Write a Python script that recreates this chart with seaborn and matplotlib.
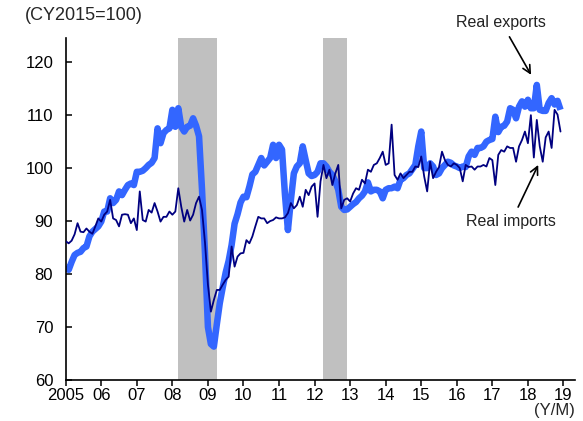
import numpy as np
import pandas as pd
import seaborn as sns
import matplotlib.pyplot as plt

# monthly indices (CY2015=100), Jan 2005 - Dec 2018
exports_by_year = {
    2005: [81.4, 80.8, 82.3, 83.6, 84.0, 84.2, 84.9, 85.2, 87.1, 88.0, 88.5, 89.0],
    2006: [89.9, 91.8, 91.8, 94.3, 93.4, 94.0, 95.6, 94.9, 95.9, 96.8, 97.1, 96.8],
    2007: [99.3, 99.3, 99.5, 100.0, 100.6, 101.0, 101.9, 107.5, 104.7, 106.6, 107.2, 107.5],
    2008: [111.0, 107.8, 111.3, 107.8, 106.9, 107.8, 108.0, 109.4, 108.0, 106.0, 96.0, 84.0],
    2009: [70.0, 66.8, 66.3, 70.5, 74.5, 77.5, 80.3, 82.5, 85.5, 89.5, 91.3, 93.5],
    2010: [94.6, 94.5, 96.5, 98.8, 99.3, 100.6, 101.9, 100.5, 101.2, 101.9, 104.4, 101.9],
    2011: [104.4, 103.5, 95.0, 88.3, 94.0, 99.0, 100.3, 100.9, 104.1, 101.5, 99.0, 98.5],
    2012: [98.7, 99.3, 100.9, 100.9, 100.3, 99.3, 98.7, 97.5, 95.9, 92.7, 92.1, 92.2],
    2013: [92.7, 93.2, 93.6, 94.3, 94.8, 95.6, 97.3, 95.6, 95.9, 95.9, 95.6, 94.3],
    2014: [95.9, 96.2, 96.2, 96.5, 96.2, 97.8, 98.1, 98.7, 99.0, 99.8, 100.6, 104.1],
    2015: [106.9, 100.0, 100.0, 100.9, 100.3, 98.7, 99.0, 100.0, 100.6, 101.2, 101.0, 100.5],
    2016: [100.3, 100.0, 100.3, 100.2, 102.2, 103.1, 102.5, 103.8, 103.8, 104.1, 105.0, 105.3],
    2017: [105.5, 109.7, 106.8, 107.8, 108.0, 108.8, 111.3, 111.0, 109.4, 111.6, 112.6, 111.6],
    2018: [112.9, 111.3, 111.3, 115.7, 111.0, 110.8, 110.8, 112.3, 113.2, 112.0, 112.7, 111.0],
}
imports_by_year = {
    2005: [86.2, 85.8, 86.3, 87.5, 89.6, 88.0, 87.9, 88.6, 88.0, 87.6, 89.0, 90.5],
    2006: [89.9, 91.2, 91.8, 94.0, 90.5, 90.2, 89.0, 91.2, 91.3, 91.2, 89.6, 90.5],
    2007: [88.3, 95.6, 90.2, 89.9, 92.1, 91.6, 93.4, 91.8, 89.9, 90.8, 90.8, 91.8],
    2008: [91.2, 91.8, 96.2, 92.7, 89.9, 92.1, 90.1, 91.2, 93.4, 94.6, 92.1, 86.0],
    2009: [78.0, 72.9, 75.1, 77.0, 77.0, 78.0, 78.9, 79.5, 85.2, 81.4, 83.3, 83.9],
    2010: [84.0, 86.4, 85.8, 87.1, 89.0, 90.8, 90.5, 90.5, 89.6, 90.0, 90.2, 90.7],
    2011: [90.5, 90.5, 90.7, 91.5, 93.4, 92.4, 93.0, 94.6, 92.7, 95.9, 94.9, 96.5],
    2012: [97.1, 90.8, 97.5, 100.6, 98.1, 99.7, 96.8, 99.0, 100.6, 92.4, 94.0, 94.3],
    2013: [93.7, 95.2, 96.2, 95.9, 97.8, 97.1, 99.7, 99.3, 100.6, 100.9, 101.9, 103.1],
    2014: [100.6, 100.9, 108.2, 98.7, 97.8, 99.0, 98.1, 98.7, 99.3, 99.3, 100.3, 100.2],
    2015: [102.2, 98.4, 95.6, 101.2, 98.1, 99.3, 100.2, 103.1, 101.5, 100.6, 100.3, 100.9],
    2016: [100.6, 100.0, 97.5, 100.6, 100.2, 100.3, 99.7, 100.3, 100.3, 100.6, 100.3, 101.9],
    2017: [101.5, 96.8, 102.5, 103.4, 103.1, 104.1, 103.8, 103.8, 101.2, 104.1, 105.3, 106.9],
    2018: [104.7, 110.0, 102.0, 109.1, 104.1, 101.2, 105.8, 106.9, 103.8, 111.0, 110.1, 106.9],
}

# recession periods (shaded)
recessions = [("2008-03", "2009-04"), ("2012-04", "2012-12")]

tick_years = list(range(2005, 2020))
tick_labels = ["2005"] + [f"{y % 100:02d}" for y in tick_years[1:]]


def to_year(d):
    d = pd.Timestamp(d)
    return d.year + (d.month - 1) / 12


dates = pd.date_range("2005-01-01", "2018-12-01", freq="MS")
df = pd.DataFrame({
    "t": [to_year(d) for d in dates],
    "exports": sum(exports_by_year.values(), []),
    "imports": sum(imports_by_year.values(), []),
})

sns.set_style("ticks")
plt.rcParams["font.family"] = ["Liberation Sans", "DejaVu Sans"]

fig = plt.figure(figsize=(5.83, 4.21), dpi=100)
ax = fig.add_axes([0.1127, 0.0974, 0.873, 0.8116])

for start, end in recessions:
    ax.axvspan(to_year(start), to_year(end), color="#c0c0c0", lw=0, zorder=0)

sns.lineplot(data=df, x="t", y="exports", ax=ax, color="#3366ff", lw=4.7,
             solid_capstyle="butt", solid_joinstyle="round", zorder=2)
sns.lineplot(data=df, x="t", y="imports", ax=ax, color="#000080", lw=1.3,
             zorder=3)

ax.set_xlim(2005, 2019.315)
ax.set_ylim(60, 124.5)
ax.set_xticks(tick_years)
ax.set_xticklabels(tick_labels)
ax.set_yticks([60, 70, 80, 90, 100, 110, 120])
ax.set_xlabel("")
ax.set_ylabel("")

sns.despine(ax=ax)
for side in ["left", "bottom"]:
    ax.spines[side].set_linewidth(1.2)
    ax.spines[side].set_color("black")
ax.tick_params(axis="x", direction="out", length=4, width=1.1, pad=2,
               labelsize=12, colors="black")
ax.tick_params(axis="y", direction="in", length=4, width=1.1, pad=9,
               labelsize=12, colors="black")

ax.annotate("Real exports", xy=(2018.09, 117.6), xytext=(2017.25, 127.5),
            ha="center", va="center", fontsize=11.5, color="#222222",
            annotation_clip=False,
            arrowprops=dict(arrowstyle="->", color="black", lw=1.2,
                            shrinkA=3, shrinkB=0, mutation_scale=14))
ax.annotate("Real imports", xy=(2018.29, 100.6), xytext=(2017.53, 89.9),
            ha="center", va="center", fontsize=11.5, color="#222222",
            annotation_clip=False,
            arrowprops=dict(arrowstyle="->", color="black", lw=1.2,
                            shrinkA=3, shrinkB=0, mutation_scale=14))

fig.text(0.043, 0.964, "(CY2015=100)", ha="left", va="center", fontsize=13)
fig.text(0.9856, 0.024, "(Y/M)", ha="right", va="center", fontsize=12)

fig.savefig("out.png", dpi=100)
plt.close(fig)
